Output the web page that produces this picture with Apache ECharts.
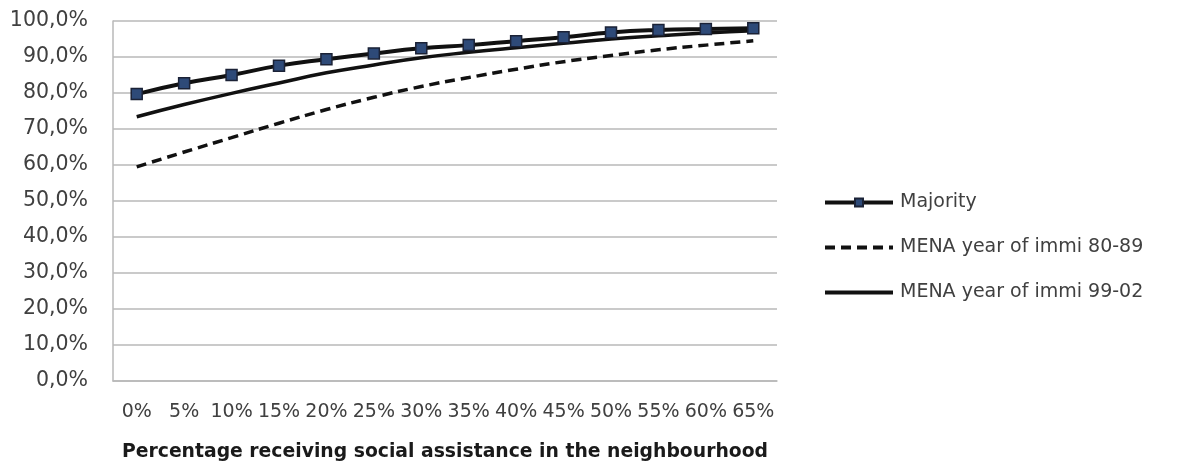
<!DOCTYPE html>
<html>
<head>
<meta charset="utf-8">
<script src="https://cdn.jsdelivr.net/npm/echarts@6/dist/echarts.min.js"></script>
<style>
  html, body { margin: 0; padding: 0; background: #fff; }
  #chart { width: 1179px; height: 468px; }
</style>
</head>
<body>
<div id="chart"></div>
<script>
// share receiving social assistance in the neighbourhood
const categories = ['0%', '5%', '10%', '15%', '20%', '25%', '30%', '35%', '40%', '45%', '50%', '55%', '60%', '65%']

// values (in %)
const majority = [79.7, 82.7, 85.0, 87.6, 89.4, 91.0, 92.4, 93.3, 94.4, 95.5, 96.8, 97.5, 97.8, 98.0]
const mena8089 = [59.5, 63.6, 67.6, 71.6, 75.4, 78.8, 81.8, 84.3, 86.6, 88.7, 90.4, 92.0, 93.3, 94.5]
const mena9902 = [73.4, 76.8, 79.9, 82.8, 85.6, 87.8, 89.8, 91.3, 92.6, 93.8, 95.0, 95.9, 96.7, 97.3]

const seriesNames = ['Majority', 'MENA year of immi 80-89', 'MENA year of immi 99-02']

let myChart = echarts.init(document.getElementById('chart'))

let font = 'DejaVu Sans'

let option = {
  backgroundColor: '#fff',
  animation: false,
  grid: {
    left: 113,
    right: 402,
    top: 21,
    bottom: 87
  },
  legend: {
    orient: 'vertical',
    left: 818,
    top: 188,
    itemWidth: 68,
    itemHeight: 10,
    itemGap: 26,
    lineStyle: { width: 4 },
    textStyle: {
      fontFamily: font,
      fontSize: 19,
      color: '#404040',
      padding: [0, 0, 0, 2]
    },
    data: [
      { name: seriesNames[0] },
      { name: seriesNames[1], itemStyle: { opacity: 0 } },
      { name: seriesNames[2], itemStyle: { opacity: 0 } }
    ]
  },
  xAxis: {
    type: 'category',
    data: categories,
    boundaryGap: true,
    axisLine: { lineStyle: { color: '#b8b8b8', width: 1.5 } },
    axisTick: { show: false },
    axisLabel: {
      interval: 0,
      margin: 22,
      fontFamily: font,
      fontSize: 19,
      color: '#404040'
    },
    name: 'Percentage receiving social assistance in the neighbourhood',
    nameLocation: 'middle',
    nameGap: 62,
    nameTextStyle: {
      fontFamily: font,
      fontSize: 18.8,
      fontWeight: 'bold',
      color: '#1a1a1a'
    }
  },
  yAxis: {
    type: 'value',
    min: 0,
    max: 100,
    interval: 10,
    axisLine: { show: true, lineStyle: { color: '#b8b8b8', width: 1.5 } },
    axisTick: { show: false },
    splitLine: { lineStyle: { color: '#b8b8b8', width: 1.5 } },
    axisLabel: {
      margin: 25,
      fontFamily: font,
      fontSize: 20.5,
      color: '#404040',
      formatter: function (v) {
        return v.toFixed(1).replace('.', ',') + '%'
      }
    }
  },
  series: [
    {
      name: seriesNames[1],
      type: 'line',
      smooth: true,
      symbol: 'none',
      lineStyle: { color: '#111', width: 3.5, type: [10, 6] },
      itemStyle: { color: '#111' },
      data: mena8089
    },
    {
      name: seriesNames[2],
      type: 'line',
      smooth: true,
      symbol: 'none',
      lineStyle: { color: '#111', width: 3.5 },
      itemStyle: { color: '#111' },
      data: mena9902
    },
    {
      name: seriesNames[0],
      type: 'line',
      smooth: true,
      symbol: 'rect',
      symbolSize: 11,
      showAllSymbol: true,
      lineStyle: { color: '#111', width: 4 },
      itemStyle: { color: '#2e4a78', borderColor: '#1b2236', borderWidth: 1.5 },
      data: majority
    }
  ]
}

myChart.setOption(option)
</script>
</body>
</html>
